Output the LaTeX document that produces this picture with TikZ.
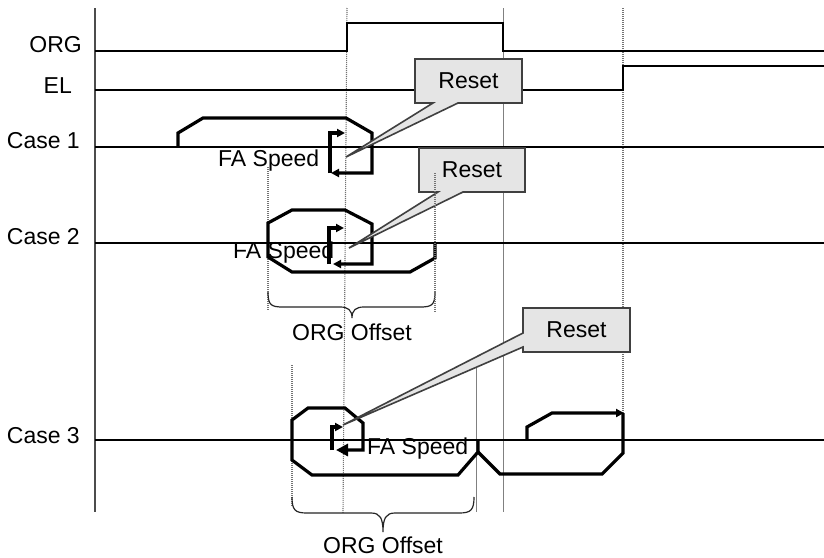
\documentclass[tikz,border=0pt]{standalone}
\usepackage{fontspec}
\setmainfont{Liberation Sans}
\usetikzlibrary{arrows.meta,calc}
\begin{document}
\begin{tikzpicture}[x=1pt,y=-1pt,
  lbl/.style={inner sep=0pt,font=\fontsize{23}{27}\selectfont},
  sig/.style={line width=1.5pt,black},
  axisline/.style={line width=1.8pt,black!70},
  guide/.style={line width=0.9pt,black!50},
  dots/.style={line width=1.1pt,black!55,dash pattern=on 1pt off 1pt},
  prof/.style={line width=3.2pt,black,line join=miter},
  tipA/.style={-{Triangle[length=8pt,width=8pt]}},
  tipB/.style={-{Triangle[length=12pt,width=12pt]}},
  bracestyle/.style={line width=1.2pt,black!85},
  callout/.style={fill=black!10,draw=black!75,line width=1.6pt,line join=miter},
]
\useasboundingbox (0,0) rectangle (824,557);
\fill[white] (0,0) rectangle (824,557);

% guide lines
\draw[guide] (503,8) -- (503,512);
\draw[dots] (347,8) -- (343,513);
\draw[dots] (623,8) -- (623,440);
\draw[dots] (268,167) -- (268,310);
\draw[dots] (292,365) -- (292,507);
\draw[guide] (476,368) -- (476,512);
\draw[axisline] (95,8) -- (95,512);

% signals
\draw[sig] (95,51) -- (347,51) -- (347,23) -- (503,23) -- (503,51) -- (824,51);
\draw[sig] (95,90) -- (623,90) -- (623,66) -- (824,66);
\draw[sig] (95,147) -- (824,147);
\draw[sig] (95,243) -- (824,243);
\draw[sig] (95,440) -- (824,440);

% labels
\node[lbl,anchor=base east] (lorg) at (82,52) {ORG};
\node[lbl,anchor=base east] (lel) at (72,93) {EL};
\node[lbl,anchor=base east] (lc1) at (80,148) {Case 1};
\node[lbl,anchor=base east] (lc2) at (80,244) {Case 2};
\node[lbl,anchor=base east] (lc3) at (80,443) {Case 3};

% FA speed texts
\node[lbl,anchor=base west] (fa1) at (218,166) {FA Speed};
\node[lbl,anchor=base west] (fa2) at (233,258) {FA Speed};
\node[lbl,anchor=base west] (fa3) at (367,454) {FA Speed};

% Case 1 profile
\draw[prof,tipA] (178,147) -- (178,133) -- (203,118) -- (346,118) -- (372,133) -- (372,173) -- (331,173);
\draw[prof,tipA] (330,173) -- (330,133) -- (345,133);

% Case 2 profile
\draw[prof,tipA] (435,243) -- (435,258) -- (410,272) -- (292,272) -- (268,257) -- (268,223) -- (292,210) -- (345,210) -- (372,224) -- (372,264) -- (333,264);
\draw[prof,tipA] (329,264) -- (329,228) -- (344,228);

% Case 3 profile
\draw[prof,tipB] (478,440) -- (478,452) -- (458,475) -- (312,475) -- (292,460) -- (292,420) -- (308,408) -- (345,408) -- (363,423) -- (363,450) -- (336,450);
\draw[prof,tipA] (332,450) -- (332,427) -- (343,427);
\draw[prof] (478,452) -- (500,474) -- (602,474) -- (623,453) -- (623,413);
\draw[prof,tipA] (527,440) -- (527,427) -- (552,413) -- (624,413);

% braces
\draw[bracestyle] (268,292) .. controls (268,305) and (271,307) .. (283,307) -- (340,307)
  .. controls (348,307) and (352,310) .. (352,318)
  .. controls (352,310) and (356,307) .. (364,307) -- (420,307)
  .. controls (432,307) and (435,305) .. (435,292);
\node[lbl,anchor=base] (off2) at (352,340) {ORG Offset};
\draw[bracestyle] (292,497) .. controls (292,510) and (295,513) .. (307,513) -- (371,513)
  .. controls (380,513) and (383,518) .. (383,532)
  .. controls (383,518) and (386,513) .. (395,513) -- (459,513)
  .. controls (471,513) and (474,510) .. (474,497);
\node[lbl,anchor=base] (off3) at (383,553) {ORG Offset};

% Reset callouts
\coordinate (t1) at (346,157);
\coordinate (t2) at (349,248);
\coordinate (t3) at (343,425);
\filldraw[callout] (415,59) -- (522,59) -- (522,103) -- (458,103) -- (t1) -- (433,103) -- (415,103) -- cycle;
\node[lbl] (r1) at (468.5,81) {Reset};
\filldraw[callout] (419,148) -- (525,148) -- (525,192) -- (463,192) -- (t2) -- (438,192) -- (419,192) -- cycle;
\node[lbl] (r2) at (472,170) {Reset};
\filldraw[callout] (523,308) -- (630,308) -- (630,352) -- (523,352) -- (523,347) -- (t3) -- (523,333) -- cycle;
\node[lbl] (r3) at (576.5,330) {Reset};
\draw[dots] (435,173) -- (435,313);
\end{tikzpicture}
\end{document}
